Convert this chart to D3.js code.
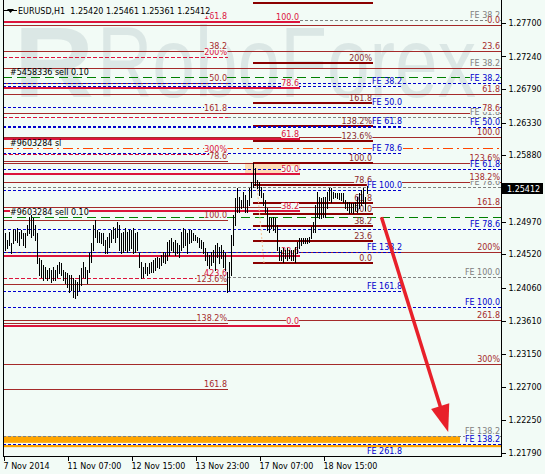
<!DOCTYPE html>
<html><head><meta charset="utf-8">
<script src="https://cdn.jsdelivr.net/npm/d3@7"></script>
<style>
body{margin:0;background:#f2fbf6;}
svg{display:block;}
text{font-family:"DejaVu Sans",sans-serif;font-size:8px;}
</style>
</head><body><svg id="c" width="545" height="474"></svg>
<script>
// ---------- DATA ----------
const headerText = "EURUSD,H1  1.25420 1.25461 1.25361 1.25412";
const lastPrice = 1.25412;
const xTickBars = [0, 32, 64, 96, 128, 160];
const xTickLabels = ["7 Nov 2014", "11 Nov 07:00", "12 Nov 15:00", "13 Nov 23:00", "17 Nov 07:00", "18 Nov 15:00"];
const yTicks = [1.27700, 1.27240, 1.26790, 1.26330, 1.25880, 1.24970, 1.24520, 1.24060, 1.23610, 1.23150, 1.22700, 1.22250, 1.21790];

const highs = [
1.2472,1.2481,1.2472,1.2483,1.2468,1.2487,1.2486,1.2488,1.2483,1.2486,
1.2481,1.2481,1.2492,1.2503,1.2506,1.2502,1.2492,1.2481,1.2447,1.2444,
1.2437,1.2435,1.2431,1.2433,1.2431,1.2435,1.2431,1.2437,1.2442,1.2440,
1.2431,1.2428,1.2426,1.2424,1.2424,1.2420,1.2417,1.2414,1.2424,1.2433,
1.2442,1.2435,1.2431,1.2454,1.2468,1.2492,1.2499,1.2486,1.2483,1.2481,
1.2481,1.2472,1.2476,1.2481,1.2486,1.2490,1.2488,1.2497,1.2492,1.2481,
1.2483,1.2488,1.2483,1.2486,1.2486,1.2488,1.2481,1.2483,1.2454,1.2442,
1.2435,1.2440,1.2435,1.2440,1.2442,1.2444,1.2447,1.2448,1.2447,1.2451,
1.2455,1.2454,1.2469,1.2472,1.2475,1.2469,1.2472,1.2468,1.2465,1.2483,
1.2488,1.2486,1.2481,1.2486,1.2486,1.2481,1.2479,1.2476,1.2475,1.2472,
1.2469,1.2461,1.2455,1.2451,1.2455,1.2458,1.2465,1.2468,1.2462,1.2465,
1.2458,1.2454,1.2428,1.2442,1.2479,1.2506,1.2529,1.2543,1.2531,1.2527,
1.2538,1.2534,1.2527,1.2543,1.2551,1.2578,1.2571,1.2554,1.2551,1.2545,
1.2536,1.2527,1.2516,1.2503,1.2502,1.2503,1.2502,1.2492,1.2462,1.2458,
1.2461,1.2458,1.2461,1.2458,1.2458,1.2458,1.2462,1.2469,1.2475,1.2475,
1.2475,1.2475,1.2475,1.2476,1.2490,1.2497,1.2520,1.2538,1.2531,1.2529,
1.2531,1.2531,1.2538,1.2543,1.2543,1.2538,1.2536,1.2536,1.2536,1.2536,
1.2536,1.2527,1.2524,1.2524,1.2523,1.2523,1.2524,1.2531,1.2536,1.2540,
1.2543,1.2531,1.2546];
const lows = [
1.2454,1.2458,1.2461,1.2465,1.2454,1.2468,1.2472,1.2469,1.2465,1.2475,
1.2465,1.2462,1.2479,1.2481,1.2476,1.2479,1.2472,1.2440,1.2424,1.2421,
1.2417,1.2420,1.2417,1.2420,1.2414,1.2417,1.2417,1.2421,1.2426,1.2424,
1.2417,1.2413,1.2407,1.2400,1.2403,1.2393,1.2392,1.2396,1.2403,1.2410,
1.2421,1.2420,1.2413,1.2428,1.2442,1.2458,1.2476,1.2469,1.2469,1.2468,
1.2465,1.2454,1.2454,1.2462,1.2469,1.2475,1.2469,1.2476,1.2458,1.2454,
1.2455,1.2458,1.2455,1.2458,1.2461,1.2454,1.2455,1.2458,1.2435,1.2420,
1.2421,1.2426,1.2424,1.2426,1.2428,1.2428,1.2431,1.2435,1.2433,1.2437,
1.2442,1.2440,1.2444,1.2451,1.2458,1.2455,1.2451,1.2454,1.2448,1.2458,
1.2462,1.2465,1.2454,1.2468,1.2469,1.2472,1.2472,1.2469,1.2462,1.2461,
1.2454,1.2444,1.2437,1.2433,1.2437,1.2442,1.2431,1.2448,1.2440,1.2447,
1.2435,1.2431,1.2400,1.2403,1.2424,1.2465,1.2492,1.2510,1.2510,1.2516,
1.2517,1.2510,1.2510,1.2520,1.2531,1.2545,1.2547,1.2543,1.2534,1.2531,
1.2520,1.2510,1.2486,1.2483,1.2488,1.2486,1.2483,1.2458,1.2444,1.2444,
1.2442,1.2447,1.2444,1.2447,1.2444,1.2444,1.2442,1.2454,1.2461,1.2465,
1.2468,1.2468,1.2468,1.2469,1.2475,1.2483,1.2483,1.2503,1.2502,1.2502,
1.2503,1.2503,1.2516,1.2527,1.2524,1.2529,1.2531,1.2529,1.2528,1.2527,
1.2524,1.2516,1.2513,1.2509,1.2510,1.2509,1.2513,1.2510,1.2516,1.2520,
1.2523,1.2513,1.2536];

// Fibonacci / expansion objects: level labels, prices, time span in bars
const pinkLabels = ["161.8", "200%", "", "300%", "423.6"];
const pinkPrices = [1.2773, 1.2723, 1.2641, 1.2590, 1.2420];
const pinkSpan = [0, 112.5];

const leftBrownLabels = ["38.2", "50.0", "161.8", "78.6", "100.0", "123.6%", "138.2%", "161.8"];
const leftBrownPrices = [1.2731, 1.2688, 1.2646, 1.2580, 1.2499, 1.2411, 1.2357, 1.2267];
const leftBrownSpan = [0, 112.5];

const crimsonLabels = ["0.0", "23.6", "38.2", "50.0", "61.8", "78.6", "100.0"];
const crimsonPrices = [1.2353, 1.2450, 1.2512, 1.2562, 1.2610, 1.2680, 1.2771];
const crimsonSpan = [0, 148.5];

const darkLabels = ["0.0", "23.6", "38.2", "50.0", "61.8", "78.6", "100.0", "123.6%", "138.2%", "161.8", "200%", ""];
const darkPrices = [1.2440, 1.2471, 1.2491, 1.2508, 1.2523, 1.2547, 1.2577, 1.2608, 1.2628, 1.2660, 1.2715, 1.2797];
const darkSpan = [125, 185];

const rightBrownLabels = ["0.0", "23.6", "", "61.8", "78.6", "100.0", "123.6%", "138.2%", "161.8", "200%", "261.8", "300%"];
const rightBrownPrices = [1.2767, 1.2731, 1.2708, 1.2672, 1.2646, 1.2613, 1.2578, 1.2552, 1.2517, 1.2455, 1.2362, 1.2301];
const rightBrownSpan = [0, 249];

const grayFeLabels = ["FE 38.2", "FE 38.2", "FE 61.8", "FE 78.6", "FE 100.0", "FE 138.2"];
const grayFePrices = [1.2774, 1.2708, 1.2641, 1.2544, 1.2421, 1.2203];
const grayFeStart = [148.5, 0, 112.5, 0, 112.5, 0];
const grayFeEnd = 249;

const blueALabels = ["FE 38.2", "FE 50.0", "FE 61.8", "FE 78.6", "FE 100.0", "FE 138.2", "FE 161.8", "FE 261.8"];
const blueAPrices = [1.2683, 1.2655, 1.2628, 1.2591, 1.2541, 1.2455, 1.2402, 1.2175];
const blueAEnd = [200, 249, 200, 200, 200, 200, 200, 200];

const blueBLabels = ["FE 38.2", "FE 50.0", "FE 61.8", "FE 78.6", "FE 100.0", "FE 138.2"];
const blueBPrices = [1.2688, 1.2627, 1.2569, 1.2487, 1.2380, 1.2191];
const blueBSpan = [0, 249];

const orderLabels = ["#5458336 sell 0.10", "#9603284 sl", "#9603284 sell 0.10"];
const orderPrices = [1.2696, 1.2598, 1.2503];
const orderKinds = ["entry", "sl", "entry"];

const orangeBandTop = [1.2202, 1.2190];
const orangeBandBottom = [1.2193, 1.2187];
const orangeBandEnd = [228.5, 249];

const peachZone = {top: 1.2578, bottom: 1.2561, from: 121, to: 148.5};
const trendFrom = [127, 1.2547], trendTo = [130.5, 1.2440];
const arrowFrom = [189.25, 1.2503], arrowTo = [222.6, 1.2208];

// ---------- DRAWING ----------
const BG = "#f2fbf6";
const C = {brown: "#a52a2a", dark: "#8b0000", darkText: "#8b2a2a", crimson: "#dc143c",
           blue: "#0000cd", gray: "#808080", green: "#008000", sl: "#ff4500", orange: "#ffa500"};
const svg = d3.select("#c");
const x = d3.scaleLinear().domain([0, 249]).range([3, 501]);
const y = d3.scaleLinear().domain([1.21790, 1.27700]).range([453, 23]);

svg.append("rect").attr("width", 545).attr("height", 474).attr("fill", BG);
svg.append("defs").append("clipPath").attr("id", "pc")
  .append("rect").attr("x", 3).attr("y", 0).attr("width", 498).attr("height", 456);
const plot = svg.append("g").attr("clip-path", "url(#pc)");

// watermark
const wm = plot.append("g").attr("fill", "#dbe7e5");
wm.append("text").attr("x", 14).attr("y", 97).style("font-family", "Liberation Sans").style("font-weight", "bold")
  .style("font-size", "100px").attr("textLength", 80).attr("lengthAdjust", "spacingAndGlyphs").text("R");
wm.append("text").attr("x", 97).attr("y", 97).style("font-family", "Liberation Sans")
  .style("font-size", "100px").attr("textLength", 379).attr("lengthAdjust", "spacingAndGlyphs").text("RoboForex");

// zones
plot.append("rect").attr("x", x(peachZone.from)).attr("width", x(peachZone.to) - x(peachZone.from))
  .attr("y", y(peachZone.top)).attr("height", y(peachZone.bottom) - y(peachZone.top)).attr("fill", "#fddcb6");
orangeBandTop.forEach((t, i) => {
  plot.append("rect").attr("x", x(0)).attr("width", x(orangeBandEnd[i]) - x(0))
    .attr("y", y(t)).attr("height", y(orangeBandBottom[i]) - y(t)).attr("fill", C.orange);
});

function hline(price, b0, b1, color, w, dash) {
  const yy = Math.round(y(price)) + (w % 2 === 1 ? 0.5 : 0);
  plot.append("line").attr("x1", x(b0)).attr("x2", x(b1)).attr("y1", yy).attr("y2", yy)
    .attr("stroke", color).attr("stroke-width", w).attr("stroke-dasharray", dash || null)
    .attr("shape-rendering", "crispEdges");
}
function label(g, text, price, bEnd, color, opts = {}) {
  if (!text) return;
  const base = Math.round(y(price)) - 2;
  const anchorX = opts.start != null ? opts.start : x(bEnd) - 1;
  const t = g.append("text").attr("x", anchorX).attr("y", base)
    .attr("text-anchor", opts.start != null ? "start" : "end").attr("fill", color).text(text);
  if (opts.nobg) return;
  const b = t.node().getBBox();
  g.insert("rect", () => t.node()).attr("x", b.x).attr("y", b.y + 1)
    .attr("width", b.width).attr("height", base + 1 - (b.y + 1)).attr("fill", BG);
}

// lines
grayFePrices.forEach((p, i) => hline(p, grayFeStart[i], grayFeEnd, C.gray, 1, "3,2"));
pinkPrices.forEach(p => hline(p, pinkSpan[0], pinkSpan[1], C.crimson, 1, "4,2"));
leftBrownPrices.forEach(p => hline(p, leftBrownSpan[0], leftBrownSpan[1], C.brown, 1));
rightBrownPrices.forEach(p => hline(p, rightBrownSpan[0], rightBrownSpan[1], C.brown, 1));
crimsonPrices.forEach(p => hline(p, crimsonSpan[0], crimsonSpan[1], C.crimson, 2));
darkPrices.forEach(p => hline(p, darkSpan[0], darkSpan[1], C.dark, 2));
blueAPrices.forEach((p, i) => hline(p, 0, blueAEnd[i], C.blue, 1, "3,2"));
blueBPrices.forEach(p => hline(p, blueBSpan[0], blueBSpan[1], C.blue, 1, "3,2"));
orderPrices.forEach((p, i) => hline(p, 0, 249, orderKinds[i] === "sl" ? C.sl : C.green, 1,
  orderKinds[i] === "sl" ? "10,4,2,4" : "9,5"));

// labels
const g = plot.append("g");
pinkLabels.forEach((t, i) => label(g, t, pinkPrices[i], pinkSpan[1], C.crimson));
leftBrownLabels.forEach((t, i) => label(g, t, leftBrownPrices[i], leftBrownSpan[1], C.brown));
crimsonLabels.forEach((t, i) => label(g, t, crimsonPrices[i], crimsonSpan[1], C.crimson));
darkLabels.forEach((t, i) => label(g, t, darkPrices[i], darkSpan[1], C.darkText));
grayFeLabels.forEach((t, i) => label(g, t, grayFePrices[i], grayFeEnd, C.gray));
rightBrownLabels.forEach((t, i) => label(g, t, rightBrownPrices[i], rightBrownSpan[1], C.brown));
blueALabels.forEach((t, i) => label(g, t, blueAPrices[i], 200, C.blue));
blueBLabels.forEach((t, i) => label(g, t, blueBPrices[i], blueBSpan[1], C.blue));
orderLabels.forEach((t, i) => label(g, t, orderPrices[i], 0, "#000", {start: 10, nobg: i === 0}));

// faint trend line
plot.append("line").attr("x1", x(trendFrom[0])).attr("y1", y(trendFrom[1]))
  .attr("x2", x(trendTo[0])).attr("y2", y(trendTo[1])).attr("stroke", "#f4c49a").attr("stroke-dasharray", "2,2");

// bars
plot.append("g").selectAll("line").data(highs).join("line")
  .attr("x1", (d, i) => Math.round(x(i)) + 0.5).attr("x2", (d, i) => Math.round(x(i)) + 0.5)
  .attr("y1", d => y(d)).attr("y2", (d, i) => y(lows[i]) + 1)
  .attr("stroke", "#000").attr("stroke-width", 1).attr("shape-rendering", "crispEdges");

// arrow
{
  const x0 = x(arrowFrom[0]), y0 = y(arrowFrom[1]), x1 = x(arrowTo[0]), y1 = y(arrowTo[1]);
  const a = Math.atan2(y1 - y0, x1 - x0), hl = 27, hw = 9.5;
  const bx = x1 - hl * Math.cos(a), by = y1 - hl * Math.sin(a);
  plot.append("line").attr("x1", x0).attr("y1", y0).attr("x2", bx + 3 * Math.cos(a)).attr("y2", by + 3 * Math.sin(a))
    .attr("stroke", "#e8202a").attr("stroke-width", 3.5);
  plot.append("path").attr("fill", "#e8202a")
    .attr("d", `M${x1},${y1}L${bx + hw * Math.sin(a)},${by - hw * Math.cos(a)}L${bx - hw * Math.sin(a)},${by + hw * Math.cos(a)}Z`);
}

// header
{
  const hg = svg.append("g");
  const t = hg.append("text").attr("x", 18).attr("y", 14).style("white-space", "pre").attr("fill", "#000").text(headerText);
  const b = t.node().getBBox();
  hg.insert("rect", () => t.node()).attr("x", b.x).attr("y", b.y + 1).attr("width", b.width).attr("height", b.height - 1).attr("fill", BG);
  hg.append("line").attr("x1", 4).attr("x2", 17).attr("y1", 10.5).attr("y2", 10.5).attr("stroke", "#000").attr("shape-rendering", "crispEdges");
  hg.append("path").attr("d", "M7,9L14,9L10.5,13Z").attr("fill", "#000");
}

// axes
const frame = svg.append("g").attr("stroke", "#000").attr("shape-rendering", "crispEdges");
frame.append("line").attr("x1", 3.5).attr("x2", 3.5).attr("y1", 0).attr("y2", 456);
frame.append("line").attr("x1", 501.5).attr("x2", 501.5).attr("y1", 0).attr("y2", 457);
frame.append("line").attr("x1", 3).attr("x2", 502).attr("y1", 456.5).attr("y2", 456.5);

const yAxis = svg.append("g").attr("transform", "translate(501.5,0)")
  .call(d3.axisRight(y).tickValues(yTicks).tickSize(4).tickSizeOuter(0).tickFormat(d3.format(".5f")));
yAxis.select(".domain").remove();
yAxis.selectAll("text").style("font-family", "DejaVu Sans").style("font-size", "8px").attr("fill", "#000");
yAxis.selectAll("line").attr("shape-rendering", "crispEdges");

const xAxis = svg.append("g").attr("transform", "translate(0,456.5)")
  .call(d3.axisBottom(x).tickValues(xTickBars).tickSize(4).tickSizeOuter(0).tickFormat((d, i) => xTickLabels[i]));
xAxis.select(".domain").remove();
xAxis.selectAll(".tick line").attr("transform", "translate(0.5,0)").attr("shape-rendering", "crispEdges");
xAxis.selectAll("text").attr("text-anchor", "start").attr("dx", 0).style("font-family", "DejaVu Sans").style("font-size", "8px").attr("fill", "#000");

// current price box
{
  const py = Math.round(y(lastPrice));
  svg.append("rect").attr("x", 502).attr("y", py - 6).attr("width", 41).attr("height", 11).attr("fill", "#000");
  svg.append("text").attr("x", 507).attr("y", py + 3).attr("fill", "#fff").text(d3.format(".5f")(lastPrice));
}
</script>
</body></html>
